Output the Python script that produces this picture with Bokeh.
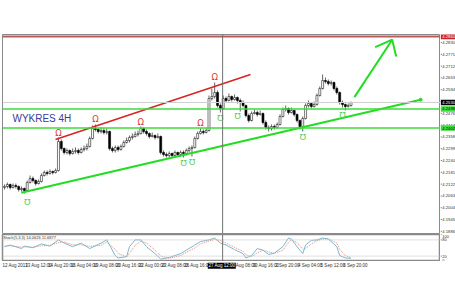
from bokeh.plotting import figure
from bokeh.layouts import column, row
from bokeh.models import Range1d, Span, Label, ColumnDataSource
from bokeh.core.properties import value
from bokeh.embed import file_html
from bokeh.resources import INLINE

# ---------------- data (EUR/PLN-like, 4H bars) ----------------
opens = [4.2105, 4.2110, 4.2120, 4.2105, 4.2115, 4.2110, 4.2095, 4.2100, 4.2090, 4.2130,
         4.2150, 4.2140, 4.2125, 4.2135, 4.2165, 4.2180, 4.2175, 4.2185, 4.2180, 4.2190,
         4.2335, 4.2300, 4.2280, 4.2290, 4.2275, 4.2285, 4.2290, 4.2280, 4.2295, 4.2300,
         4.2310, 4.2350, 4.2400, 4.2395, 4.2385, 4.2390, 4.2380, 4.2385, 4.2300, 4.2290,
         4.2305, 4.2295, 4.2310, 4.2330, 4.2340, 4.2355, 4.2360, 4.2370, 4.2375, 4.2400,
         4.2385, 4.2375, 4.2360, 4.2365, 4.2355, 4.2360, 4.2280, 4.2270, 4.2265, 4.2275,
         4.2265, 4.2280, 4.2270, 4.2280, 4.2275, 4.2290, 4.2300, 4.2305, 4.2350, 4.2375,
         4.2385, 4.2380, 4.2390, 4.2550, 4.2560, 4.2580, 4.2515, 4.2500, 4.2550, 4.2540,
         4.2560, 4.2545, 4.2555, 4.2540, 4.2530, 4.2515, 4.2465, 4.2440, 4.2475, 4.2480,
         4.2470, 4.2475, 4.2430, 4.2405, 4.2400, 4.2410, 4.2405, 4.2420, 4.2460, 4.2495,
         4.2500, 4.2480, 4.2490, 4.2470, 4.2440, 4.2410, 4.2450, 4.2515, 4.2525, 4.2510,
         4.2520, 4.2565, 4.2600, 4.2640, 4.2635, 4.2625, 4.2630, 4.2600, 4.2580, 4.2530,
         4.2520, 4.2510, 4.2515]
highs = [4.2120, 4.2130, 4.2125, 4.2125, 4.2125, 4.2115, 4.2110, 4.2105, 4.2140, 4.2165,
         4.2160, 4.2145, 4.2145, 4.2175, 4.2190, 4.2190, 4.2195, 4.2190, 4.2200, 4.2355,
         4.2345, 4.2305, 4.2300, 4.2295, 4.2300, 4.2305, 4.2300, 4.2305, 4.2315, 4.2325,
         4.2360, 4.2415, 4.2420, 4.2400, 4.2405, 4.2400, 4.2400, 4.2390, 4.2310, 4.2315,
         4.2315, 4.2320, 4.2340, 4.2355, 4.2365, 4.2375, 4.2385, 4.2390, 4.2410, 4.2405,
         4.2395, 4.2380, 4.2380, 4.2370, 4.2375, 4.2365, 4.2290, 4.2280, 4.2285, 4.2280,
         4.2290, 4.2285, 4.2290, 4.2290, 4.2300, 4.2310, 4.2315, 4.2360, 4.2385, 4.2400,
         4.2395, 4.2400, 4.2565, 4.2600, 4.2630, 4.2590, 4.2525, 4.2565, 4.2560, 4.2575,
         4.2565, 4.2570, 4.2560, 4.2550, 4.2540, 4.2520, 4.2475, 4.2485, 4.2495, 4.2490,
         4.2490, 4.2480, 4.2440, 4.2415, 4.2420, 4.2420, 4.2430, 4.2470, 4.2505, 4.2515,
         4.2505, 4.2505, 4.2495, 4.2475, 4.2445, 4.2460, 4.2525, 4.2540, 4.2530, 4.2535,
         4.2575, 4.2610, 4.2670, 4.2655, 4.2645, 4.2640, 4.2635, 4.2610, 4.2585, 4.2540,
         4.2525, 4.2525, 4.2535]
lows = [4.2095, 4.2100, 4.2095, 4.2100, 4.2100, 4.2085, 4.2085, 4.2075, 4.2085, 4.2125,
        4.2130, 4.2115, 4.2120, 4.2130, 4.2160, 4.2165, 4.2170, 4.2170, 4.2175, 4.2185,
        4.2290, 4.2270, 4.2270, 4.2265, 4.2270, 4.2275, 4.2270, 4.2275, 4.2285, 4.2290,
        4.2305, 4.2345, 4.2385, 4.2375, 4.2375, 4.2370, 4.2370, 4.2290, 4.2280, 4.2280,
        4.2285, 4.2290, 4.2305, 4.2325, 4.2330, 4.2345, 4.2355, 4.2360, 4.2370, 4.2375,
        4.2365, 4.2350, 4.2355, 4.2345, 4.2350, 4.2270, 4.2260, 4.2255, 4.2255, 4.2255,
        4.2260, 4.2260, 4.2260, 4.2255, 4.2265, 4.2280, 4.2260, 4.2300, 4.2345, 4.2370,
        4.2370, 4.2375, 4.2385, 4.2540, 4.2550, 4.2505, 4.2480, 4.2495, 4.2530, 4.2535,
        4.2535, 4.2540, 4.2525, 4.2485, 4.2505, 4.2455, 4.2430, 4.2435, 4.2470, 4.2460,
        4.2465, 4.2420, 4.2395, 4.2385, 4.2390, 4.2395, 4.2400, 4.2415, 4.2455, 4.2485,
        4.2470, 4.2475, 4.2460, 4.2430, 4.2395, 4.2385, 4.2445, 4.2505, 4.2500, 4.2505,
        4.2515, 4.2560, 4.2595, 4.2625, 4.2615, 4.2615, 4.2590, 4.2570, 4.2520, 4.2505,
        4.2490, 4.2505, 4.2510]
closes = [4.2110, 4.2120, 4.2105, 4.2115, 4.2110, 4.2095, 4.2100, 4.2090, 4.2130, 4.2150,
          4.2140, 4.2125, 4.2135, 4.2165, 4.2180, 4.2175, 4.2185, 4.2180, 4.2190, 4.2335,
          4.2300, 4.2280, 4.2290, 4.2275, 4.2285, 4.2290, 4.2280, 4.2295, 4.2300, 4.2310,
          4.2350, 4.2400, 4.2395, 4.2385, 4.2390, 4.2380, 4.2385, 4.2300, 4.2290, 4.2305,
          4.2295, 4.2310, 4.2330, 4.2340, 4.2355, 4.2360, 4.2370, 4.2375, 4.2400, 4.2385,
          4.2375, 4.2360, 4.2365, 4.2355, 4.2360, 4.2280, 4.2270, 4.2265, 4.2275, 4.2265,
          4.2280, 4.2270, 4.2280, 4.2275, 4.2290, 4.2300, 4.2305, 4.2350, 4.2375, 4.2385,
          4.2380, 4.2390, 4.2550, 4.2560, 4.2580, 4.2515, 4.2500, 4.2550, 4.2540, 4.2560,
          4.2545, 4.2555, 4.2540, 4.2530, 4.2515, 4.2465, 4.2440, 4.2475, 4.2480, 4.2470,
          4.2475, 4.2430, 4.2405, 4.2400, 4.2410, 4.2405, 4.2420, 4.2460, 4.2495, 4.2500,
          4.2480, 4.2490, 4.2470, 4.2440, 4.2410, 4.2450, 4.2515, 4.2525, 4.2510, 4.2520,
          4.2565, 4.2600, 4.2640, 4.2635, 4.2625, 4.2630, 4.2600, 4.2580, 4.2530, 4.2520,
          4.2510, 4.2515, 4.2530]

price_ticks = [4.2830, 4.2771, 4.2712, 4.2653, 4.2594, 4.2535, 4.2476, 4.2417, 4.2358,
               4.2299, 4.2240, 4.2181, 4.2122, 4.2063, 4.2004, 4.1945, 4.1886]
date_bars = [0, 8, 16, 24, 32, 40, 48, 56, 64, 72, 80, 88, 96, 104, 112, 120]
date_labels = ["12 Aug 2013", "13 Aug 12:00", "14 Aug 20:00", "16 Aug 04:00",
               "19 Aug 08:00", "20 Aug 16:00", "22 Aug 00:00", "23 Aug 08:00",
               "26 Aug 16:00", "28 Aug 00:00", "29 Aug 08:00", "30 Aug 16:00",
               "2 Sep 20:00", "4 Sep 04:00", "5 Sep 12:00", "6 Sep 20:00"]
cursor_bar = 76.8
cursor_label = "27 Aug 12:00"

# horizontal levels
resistance_top = 4.2860
level_upper = 4.2498
level_lower = 4.2402
last_price = closes[-1]
level_values = [resistance_top, last_price, level_upper, level_lower]
level_fill = ["#cc2222", "black", "#3ddc3d", "#3ddc3d"]
level_text_color = ["white", "white", "#002200", "#002200"]

# trend lines (bar index, price)
red_trend_x = [17.96, 86.6]
red_trend_y = [4.2345, 4.2670]
green_trend_x = [5.9, 146.5]
green_trend_y = [4.2079, 4.2544]
arrow_x = [123.2, 136.5]
arrow_y = [4.2557, 4.2844]
arrow_head_x = [130.5, 136.5, 137.9]
arrow_head_y = [4.2807, 4.2844, 4.2760]

# fractal-like markers
up_mark_x = [19, 32, 48, 69, 74]
up_mark_y = [4.2378, 4.2448, 4.2433, 4.2428, 4.2658]
dn_mark_x = [8, 63, 66, 76, 82, 105, 119]
dn_mark_y = [4.2034, 4.2226, 4.2232, 4.2454, 4.2462, 4.2357, 4.2466]

# stochastic (bar index, %K, %D)
stoch_x = [0, 2, 6, 7, 10, 13, 16, 19, 21, 24, 27, 30, 34, 36, 39, 40, 43, 44, 46, 48,
           50, 53, 55, 58, 62, 64, 67, 69, 72, 74, 76, 78, 81, 84, 85, 87, 89, 91, 93, 95,
           98, 100, 101, 103, 105, 106, 108, 110, 112, 114, 117, 118, 120, 122]
stoch_k = [55, 61, 48, 57, 51, 65, 57, 80, 68, 55, 68, 48, 68, 80, 22, 13, 18, 55, 80, 80,
           55, 29, 9, 15, 29, 42, 61, 74, 80, 87, 68, 61, 44, 29, 13, 22, 48, 42, 26, 31,
           55, 87, 83, 55, 29, 61, 78, 80, 87, 83, 55, 22, 13, 12]
stoch_d = [57, 58, 53, 54, 53, 58, 60, 70, 72, 62, 62, 56, 60, 72, 45, 30, 17, 30, 60, 75,
           68, 42, 20, 12, 22, 34, 50, 65, 76, 82, 78, 68, 52, 38, 25, 18, 32, 42, 35, 30,
           42, 70, 80, 70, 45, 48, 65, 77, 83, 85, 68, 45, 22, 14]
stoch_levels = [20, 80]
stoch_ticks = [0, 20, 80, 100]
stoch_tick_labels = ["0", "20", "80", "100"]
stoch_caption = "Stoch(5,3,3) 14.0626 11.6877"

# ---------------- common ----------------
FONT = "Liberation Sans"
AXIS_GREY = "#8a8a8a"
LABEL_GREY = "#333333"


def bare(fig):
    fig.grid.visible = False
    fig.axis.visible = False
    fig.border_fill_color = "white"
    fig.background_fill_color = "white"
    return fig


bars = list(range(len(closes)))
up = [c >= o for o, c in zip(opens, closes)]
src_up = ColumnDataSource(dict(
    x=[b for b, u in zip(bars, up) if u],
    top=[c for c, u in zip(closes, up) if u],
    bottom=[o for o, u in zip(opens, up) if u]))
src_dn = ColumnDataSource(dict(
    x=[b for b, u in zip(bars, up) if not u],
    top=[o for o, u in zip(opens, up) if not u],
    bottom=[c for c, u in zip(closes, up) if not u]))

xr = Range1d(-0.7, 153.5)          # frame x 2..440 -> ~2.84 px per 4H bar
yr_price = Range1d(4.1875, 4.2870)  # frame y 34..233
yr_stoch = Range1d(0, 100)

# ---------------- main price panel ----------------
p1 = bare(figure(width=440, height=234, x_range=xr, y_range=yr_price,
                 output_backend="svg", toolbar_location=None,
                 min_border_left=2, min_border_right=0, min_border_top=34, min_border_bottom=1))
p1.outline_line_color = AXIS_GREY
p1.outline_line_width = 1

p1.add_layout(Span(location=resistance_top, dimension="width", line_color="#b85c5c", line_width=2))
p1.add_layout(Span(location=last_price, dimension="width", line_color="#cfcfcf", line_width=1))
p1.add_layout(Span(location=level_upper, dimension="width", line_color="#3ddc3d", line_width=1.5))
p1.add_layout(Span(location=level_lower, dimension="width", line_color="#3ddc3d", line_width=1.5))
p1.add_layout(Span(location=cursor_bar, dimension="height", line_color="#707070", line_width=1))

p1.segment(x0=bars, y0=lows, x1=bars, y1=highs, line_color="#222222", line_width=0.7)
p1.vbar(x="x", top="top", bottom="bottom", width=0.7, source=src_up,
        fill_color="white", line_color="#222222", line_width=0.6)
p1.vbar(x="x", top="top", bottom="bottom", width=0.7, source=src_dn,
        fill_color="black", line_color="black", line_width=0.6)

p1.line(red_trend_x, red_trend_y, line_color="#dd2222", line_width=1.6)
p1.line(green_trend_x, green_trend_y, line_color="#22dd22", line_width=2)
p1.scatter([green_trend_x[-1]], [green_trend_y[-1]], size=3, color="#22dd22")
p1.line(arrow_x, arrow_y, line_color="#22dd22", line_width=2)
p1.line(arrow_head_x, arrow_head_y, line_color="#22dd22", line_width=2)

p1.text(up_mark_x, up_mark_y, text=["Ω", "Ω", "Ω", "Ω", "Ω"],
        text_font=value("DejaVu Sans"), text_font_size="8.5px", text_color="#dd3333",
        text_align="center", text_baseline="middle")
p1.text(dn_mark_x, dn_mark_y, text=["℧", "℧", "℧", "℧", "℧", "℧", "℧"],
        text_font=value("DejaVu Sans"), text_font_size="8.5px", text_color="#55cc55",
        text_align="center", text_baseline="middle")

p1.add_layout(Label(x=2.8, y=4.2450, text="WYKRES 4H", text_font=FONT,
                    text_font_size="10px", text_color="#3b3b9b",
                    text_align="left", text_baseline="middle"))

# ---------------- price scale strip (x 440..455) ----------------
pR1 = bare(figure(width=15, height=234, x_range=Range1d(0, 15), y_range=yr_price,
                  output_backend="svg", toolbar_location=None,
                  min_border_left=0, min_border_right=0, min_border_top=34, min_border_bottom=1))
pR1.outline_line_color = None
pR1.segment(x0=[0] * len(price_ticks), y0=price_ticks, x1=[1.5] * len(price_ticks),
            y1=price_ticks, line_color=AXIS_GREY, line_width=1)
pR1.text([1.8] * len(price_ticks), price_ticks, text=[f"{t:.4f}" for t in price_ticks],
         text_font=value(FONT), text_font_size="4.2px", text_color=LABEL_GREY,
         text_align="left", text_baseline="middle")
pR1.rect(x=[7.6] * len(level_values), y=level_values, width=14.8, height=5.5,
         height_units="screen", fill_color=level_fill, line_color=None)
pR1.text([1.8] * len(level_values), level_values, text=[f"{v:.4f}" for v in level_values],
         text_font=value(FONT), text_font_size="4.2px", text_color=level_text_color,
         text_align="left", text_baseline="middle")

# ---------------- stochastic panel ----------------
p2 = bare(figure(width=440, height=27, x_range=xr, y_range=yr_stoch,
                 output_backend="svg", toolbar_location=None,
                 min_border_left=2, min_border_right=0, min_border_top=0, min_border_bottom=0))
p2.outline_line_color = AXIS_GREY
p2.outline_line_width = 1.5
for lv in stoch_levels:
    p2.add_layout(Span(location=lv, dimension="width", line_color="#c0c0c0",
                       line_width=1, line_dash="1 1"))
p2.add_layout(Span(location=cursor_bar, dimension="height", line_color="#707070", line_width=1))
p2.line(stoch_x, stoch_d, line_color="#e08a8a", line_width=1, line_dash="1 1")
p2.line(stoch_x, stoch_k, line_color="#7fb7c8", line_width=1)
p2.add_layout(Label(x=-0.4, y=97, text=stoch_caption, text_font=FONT,
                    text_font_size="4px", text_color=LABEL_GREY,
                    text_align="left", text_baseline="top"))

pR2 = bare(figure(width=15, height=27, x_range=Range1d(0, 15), y_range=yr_stoch,
                  output_backend="svg", toolbar_location=None,
                  min_border_left=0, min_border_right=0, min_border_top=0, min_border_bottom=0))
pR2.outline_line_color = None
pR2.segment(x0=[0, 0, 0, 0], y0=stoch_ticks, x1=[1.5, 1.5, 1.5, 1.5], y1=stoch_ticks,
            line_color=AXIS_GREY, line_width=1)
pR2.text([1.8, 1.8, 1.8, 1.8], stoch_ticks, text=stoch_tick_labels,
         text_font=value(FONT), text_font_size="4px", text_color=LABEL_GREY,
         text_align="left", text_baseline=["bottom", "middle", "middle", "top"])

# ---------------- time scale row ----------------
pD = bare(figure(width=455, height=42, x_range=xr, y_range=Range1d(42, 0),
                 output_backend="svg", toolbar_location=None,
                 min_border_left=2, min_border_right=15, min_border_top=0, min_border_bottom=0))
pD.outline_line_color = None
pD.text(date_bars, [4.3] * len(date_bars), text=date_labels, text_font=value(FONT),
        text_font_size="4.5px", text_color=LABEL_GREY, text_align="left",
        text_baseline="middle", x_offset=-2)
pD.rect(x=[cursor_bar - 0.3], y=[4.3], width=28, height=6, width_units="screen",
        height_units="screen", fill_color="black", line_color=None)
pD.text([cursor_bar - 0.3], [4.3], text=[cursor_label], text_font=value(FONT),
        text_font_size="4.5px", text_color="white", text_align="center",
        text_baseline="middle")

layout = column(row(p1, pR1, spacing=0), row(p2, pR2, spacing=0), pD, spacing=0)
open("out.html", "w").write(file_html(layout, INLINE))
